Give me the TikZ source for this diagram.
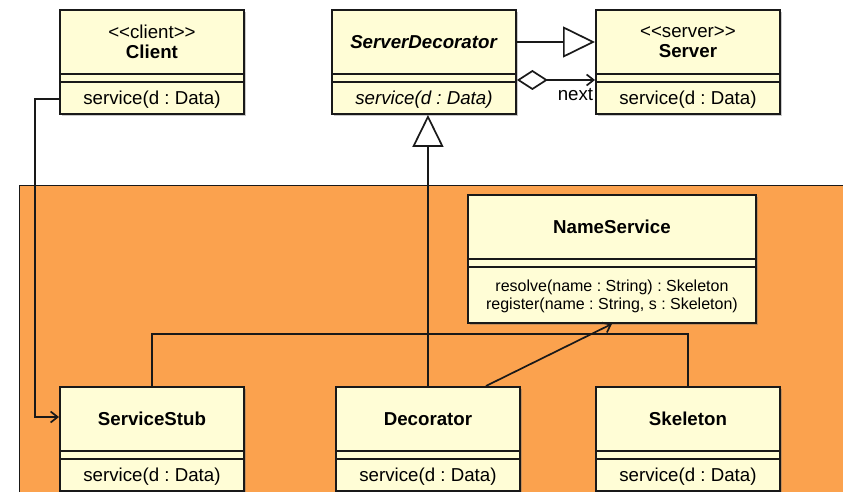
\documentclass[tikz,border=0pt]{standalone}
\usepackage{fontspec}
\newfontfamily\umlfont{Liberation Sans}
\usetikzlibrary{arrows.meta,calc,shadows}

\definecolor{classyellow}{RGB}{255,253,214}
\definecolor{pkgorange}{RGB}{251,162,78}
\definecolor{umlline}{RGB}{25,25,25}

\tikzset{
  umltext/.style={font=\umlfont\frenchspacing\fontsize{18.7}{20.5}\selectfont},
  opstext/.style={font=\umlfont\frenchspacing\fontsize{16}{17.5}\selectfont},
  classbox/.style={draw=umlline, line width=1.9pt, fill=classyellow, inner sep=0pt,
    drop shadow={shadow xshift=2.5pt, shadow yshift=-2.5pt, opacity=0.35, fill=black!60}},
  compline/.style={draw=umlline, line width=1.9pt},
  link/.style={draw=umlline, line width=1.7pt},
  assoc/.style={link, -{Straight Barb[length=7pt,width=11pt]}},
  inherit/.style={link, -{Triangle[length=32pt,width=31pt,fill=white]}},
  aggreg/.style={link, {Diamond[length=31pt,width=20pt,fill=white]}-{Straight Barb[length=7pt,width=11pt]}},
}

%% class box: [ops style]{name}{top left}{width}{height}{header}{operations}
\newcommand{\umlclass}[7][umltext]{%
  \node[classbox, anchor=north west, minimum width=#4, minimum height=#5] (#2) at (#3) {};
  \draw[compline] ($(#2.north west)+(0,65)$) -- ($(#2.north east)+(0,65)$);
  \draw[compline] ($(#2.north west)+(0,73)$) -- ($(#2.north east)+(0,73)$);
  \node[umltext, align=center] (#2-name) at ($(#2.north)+(0,33)$) {#6};
  \node[#1, align=center] (#2-ops) at ($(#2.south)+(0,{-(#5-73)/2})$) {#7};
}

\begin{document}
\begin{tikzpicture}[x=1pt, y=-1pt]
  \useasboundingbox (0,0) rectangle (843,492);
  \clip (0,0) rectangle (843,492);

  %% package area
  \fill[pkgorange] (19,185) rectangle (850,500);
  \draw[umlline, line width=1pt] (850,185) -- (19,185) -- (19,500);

  %% top row
  \umlclass{client}{59,9}{184}{104}{<<client>>\\\textbf{Client}}{service(d : Data)}
  \umlclass{sdec}{331,9}{184}{104}{\textbf{\textit{ServerDecorator}}}{\textit{service(d : Data)}}
  \umlclass{server}{595,9}{184}{104}{<<server>>\\\textbf{Server}}{service(d : Data)}

  %% classes in the package
  \umlclass[opstext]{names}{467,194}{288}{128}{\textbf{NameService}}{resolve(name : String) : Skeleton\\register(name : String, s : Skeleton)}
  \umlclass{stub}{59,386}{184}{104}{\textbf{ServiceStub}}{service(d : Data)}
  \umlclass{deco}{335,386}{184}{104}{\textbf{Decorator}}{service(d : Data)}
  \umlclass{skel}{595,386}{184}{104}{\textbf{Skeleton}}{service(d : Data)}

  %% client -> stub
  \coordinate (clientout) at ($(client.south west)+(0,-16)$);
  \coordinate (stubin) at ($(stub.north west)+(0,31)$);
  \draw[assoc] (clientout) -- ++(-24,0) |- (stubin);

  %% decorator -> server
  \draw[inherit] (sdec.east |- sdec-name) -- (server.west |- sdec-name);
  \coordinate (aggfrom) at ($(sdec.north east)+(0,71)$);
  \draw[aggreg] (aggfrom) -- (aggfrom -| server.west)
    node[umltext, anchor=north east, inner sep=1pt, yshift=-7pt] {next};

  %% generalization tree
  \draw[link] (stub.north) -- ++(0,-52) -| (skel.north);
  \draw[inherit] (deco.north) -- (deco.north |- sdec.south);

  %% decorator -> name service
  \draw[assoc] ($(deco.north)+(58,0)$) -- (names.south);
\end{tikzpicture}
\end{document}
